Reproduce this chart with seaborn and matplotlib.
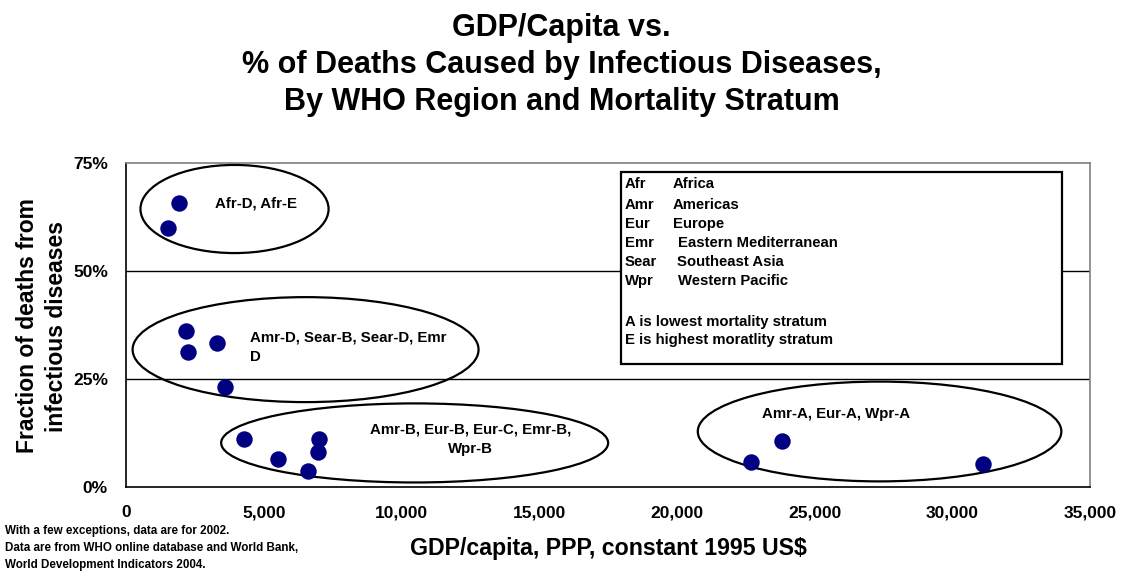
import matplotlib
matplotlib.use("Agg")
import matplotlib.pyplot as plt
import seaborn as sns
import pandas as pd
from matplotlib.patches import Ellipse, Rectangle
from matplotlib.ticker import FuncFormatter

# ---- data ----
gdp_per_capita = [1925, 1525, 2180, 2250, 3300, 3590, 4285, 5520, 6610, 7010, 6970, 22695, 23820, 31120]
infectious_pct = [65.7, 60.0, 36.1, 31.3, 33.3, 23.1, 11.1, 6.5, 3.7, 11.1, 8.1, 5.8, 10.6, 5.3]

group_labels = ["Afr-D, Afr-E",
                "Amr-D, Sear-B, Sear-D, Emr\nD",
                "Amr-B, Eur-B, Eur-C, Emr-B,\nWpr-B",
                "Amr-A, Eur-A, Wpr-A"]

legend_abbr = ["Afr", "Amr", "Eur", "Emr", "Sear", "Wpr"]
legend_names = ["Africa", "Americas", "Europe", "Eastern Mediterranean", "Southeast Asia", "Western Pacific"]
legend_notes = ["A is lowest mortality stratum", "E is highest moratlity stratum"]

x_ticks = [0, 5000, 10000, 15000, 20000, 25000, 30000, 35000]
y_ticks = [0, 25, 50, 75]

# ---- annotation geometry (data units) ----
ell_cx = [3940, 6520, 10480, 27360]
ell_cy = [64.35, 31.8, 10.2, 12.85]
ell_w = [6830, 12560, 14050, 13200]
ell_h = [20.4, 24.3, 18.3, 23.1]
lab_x = [3230, 4500, 12500, 23100]
lab_y = [65.7, 32.3, 11.0, 16.8]
lab_ha = ["left", "left", "center", "left"]

sns.set_theme(style="white")
plt.rcParams['font.family'] = ['Liberation Sans', 'DejaVu Sans']
plt.rcParams['text.color'] = 'black'
plt.rcParams['axes.labelcolor'] = 'black'
plt.rcParams['xtick.color'] = 'black'
plt.rcParams['ytick.color'] = 'black'

fig = plt.figure(figsize=(11.23, 5.72), dpi=100)
ax = fig.add_axes([126/1123, 1-487/572, 964/1123, 324/572])

df = pd.DataFrame({"gdp": gdp_per_capita, "pct": infectious_pct})
sns.scatterplot(data=df, x="gdp", y="pct", ax=ax, s=140, color="#000080",
                edgecolor="#000080", linewidth=0, zorder=5)

ax.set_xlim(0, 35000)
ax.set_ylim(0, 75)
ax.set_xticks(x_ticks)
ax.set_yticks(y_ticks)
ax.xaxis.set_major_formatter(FuncFormatter(lambda v, p: f"{int(v):,}"))
ax.yaxis.set_major_formatter(FuncFormatter(lambda v, p: f"{int(v)}%"))
ax.tick_params(axis='both', which='major', direction='out', length=5, width=1,
               color='black', labelcolor='black', labelsize=12.5, pad=8)
for lab in ax.get_xticklabels() + ax.get_yticklabels():
    lab.set_fontweight('bold')

for yv in [25, 50]:
    ax.axhline(yv, color='black', lw=1, zorder=1)

for side in ['left', 'bottom']:
    ax.spines[side].set_color('black')
    ax.spines[side].set_linewidth(1.2)
for side in ['top', 'right']:
    ax.spines[side].set_color('#808080')
    ax.spines[side].set_linewidth(1.2)

ax.set_xlabel("GDP/capita, PPP, constant 1995 US$", fontsize=16.7, fontweight='bold',
              color='black')
ax.xaxis.set_label_coords(0.5, (487 - 549) / 324)
ax.xaxis.label.set_va('center')
ax.set_ylabel("Fraction of deaths from\ninfectious diseases", fontsize=16.5, fontweight='bold',
              color='black', linespacing=1.37)
ax.yaxis.set_label_coords((42 - 126) / 964, (487 - 326) / 324)
ax.yaxis.label.set_va('center')

for cx, cy, w, h in zip(ell_cx, ell_cy, ell_w, ell_h):
    ax.add_patch(Ellipse((cx, cy), w, h, fill=False, edgecolor='black', lw=1.6, zorder=4))

for t, x, y, ha in zip(group_labels, lab_x, lab_y, lab_ha):
    ax.text(x, y, t, ha=ha, va='center', fontsize=10.8, fontweight='bold', zorder=6,
            linespacing=1.5, color='black')

# legend box (axes fraction from pixel positions)
def fx(px):
    return (px - 126) / 964
def fy(py):
    return (487 - py) / 324

ax.add_patch(Rectangle((fx(621), fy(364)), fx(1062) - fx(621), fy(171.7) - fy(364),
                       transform=ax.transAxes, facecolor='white', edgecolor='black',
                       lw=1.6, zorder=3))
rows_y = [183, 203.5, 222.5, 242, 260.7, 279.3]
name_x = [673, 673, 673, 677.5, 677, 677.5]
base = 5.3
for a, n, yy, nx in zip(legend_abbr, legend_names, rows_y, name_x):
    ax.text(fx(625), fy(yy + base), a, transform=ax.transAxes, fontsize=10.7, fontweight='bold',
            va='baseline', ha='left', zorder=6, color='black')
    ax.text(fx(nx), fy(yy + base), n, transform=ax.transAxes, fontsize=10.7, fontweight='bold',
            va='baseline', ha='left', zorder=6, color='black')
for note, yy in zip(legend_notes, [320.7, 339]):
    ax.text(fx(625), fy(yy + base), note, transform=ax.transAxes, fontsize=10.7, fontweight='bold',
            va='baseline', ha='left', zorder=6, color='black')

fig.text(0.5, 1 - 65/572, "GDP/Capita vs.\n% of Deaths Caused by Infectious Diseases,\nBy WHO Region and Mortality Stratum",
         ha='center', va='center', fontsize=22, fontweight='bold', linespacing=1.3, color='black')

fig.text(5/1123, 1 - 548/572,
         "With a few exceptions, data are for 2002.\nData are from WHO online database and World Bank,\nWorld Development Indicators 2004.",
         ha='left', va='center', fontsize=8.4, fontweight='bold', linespacing=1.59, color='black')

fig.savefig("out.png", dpi=100, facecolor='white')
